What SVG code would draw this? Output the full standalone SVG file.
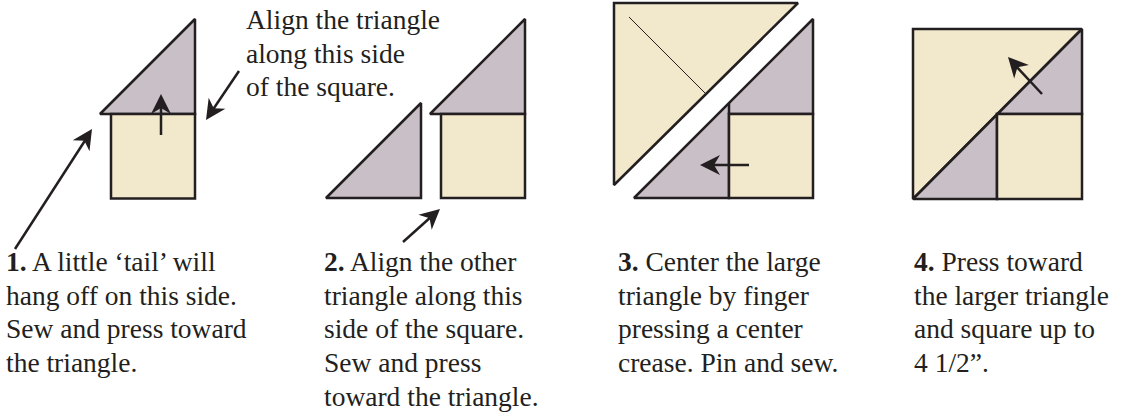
<svg xmlns="http://www.w3.org/2000/svg" width="1129" height="412" viewBox="0 0 1129 412">
<style>
.cream{fill:#F2E8CB;stroke:#231F20;stroke-width:2.5;stroke-linejoin:miter;stroke-miterlimit:2}
.purple{fill:#C9BFC7;stroke:#231F20;stroke-width:2.5;stroke-linejoin:miter;stroke-miterlimit:2}
.edge{fill:none;stroke:#231F20;stroke-width:2.5}
.crease{fill:none;stroke:#231F20;stroke-width:1}
.arr{fill:none;stroke:#231F20;stroke-width:2.5}
.head{fill:#231F20}
text{font-family:"Liberation Serif","Times New Roman",serif;font-size:27.5px;fill:#231F20}
.b{font-weight:bold}
</style>
<defs>
<path id="ah" d="M0,0 L-20,-10 L-14,0 L-20,10 Z"/>
</defs>
<rect width="1129" height="412" fill="#ffffff"/>

<g id="step1">
<polygon class="purple" points="100,114 195,19 195,114"/>
<rect class="cream" x="111" y="114" width="84" height="84.5"/>
</g>

<g id="step2">
<polygon class="purple" points="326,198 421,103 421,198"/>
<polygon class="purple" points="430,114 525,19 525,114"/>
<rect class="cream" x="441" y="114" width="84" height="84"/>
</g>

<g id="step3">
<polygon class="cream" points="614,3 798,3 614,185"/>
<line class="crease" x1="629" y1="17" x2="705" y2="93"/>
<polygon class="purple" points="634,198 813,19 813,114 729,114 729,198"/>
<rect class="cream" x="729" y="114" width="84" height="84"/>
<line class="edge" x1="729" y1="103" x2="729" y2="114"/>
</g>

<g id="step4">
<polygon class="cream" points="913,29 1082,29 913,199"/>
<polygon class="purple" points="913,199 1082,29 1082,114 997,114 997,199"/>
<rect class="cream" x="997" y="114" width="85" height="85"/>
</g>

<g id="connectors">
<line class="arr" x1="161" y1="135" x2="161" y2="105"/>
<use href="#ah" class="head" transform="translate(161,94) rotate(-90)"/>
<line class="arr" x1="239" y1="71" x2="212" y2="111"/>
<use href="#ah" class="head" transform="translate(206,120) rotate(123.5)"/>
<line class="arr" x1="15" y1="249" x2="86" y2="139"/>
<use href="#ah" class="head" transform="translate(92,129) rotate(-57)"/>
<line class="arr" x1="403" y1="242" x2="432" y2="216"/>
<use href="#ah" class="head" transform="translate(440,209) rotate(-41.7)"/>
<line class="arr" x1="749" y1="165" x2="710" y2="165"/>
<use href="#ah" class="head" transform="translate(700,165) rotate(180)"/>
<line class="arr" x1="1042" y1="94" x2="1015" y2="65"/>
<use href="#ah" class="head" transform="translate(1008,57) rotate(-132.6)"/>
</g>

<g id="label-align">
<text x="246" y="29">Align the triangle</text>
<text x="246" y="63">along this side</text>
<text x="246" y="96">of the square.</text>
</g>

<g id="label1">
<text x="6" y="271"><tspan class="b">1.</tspan> A little ‘tail’ will</text>
<text x="6" y="305">hang off on this side.</text>
<text x="6" y="338">Sew and press toward</text>
<text x="6" y="372">the triangle.</text>
</g>

<g id="label2">
<text x="324" y="271"><tspan class="b">2.</tspan> Align the other</text>
<text x="324" y="305">triangle along this</text>
<text x="324" y="338">side of the square.</text>
<text x="324" y="372">Sew and press</text>
<text x="324" y="406">toward the triangle.</text>
</g>

<g id="label3">
<text x="618" y="271"><tspan class="b">3.</tspan> Center the large</text>
<text x="618" y="305">triangle by finger</text>
<text x="618" y="338">pressing a center</text>
<text x="618" y="372">crease. Pin and sew.</text>
</g>

<g id="label4">
<text x="914" y="271"><tspan class="b">4.</tspan> Press toward</text>
<text x="914" y="305">the larger triangle</text>
<text x="914" y="338">and square up to</text>
<text x="914" y="372">4 1/2”.</text>
</g>
</svg>
